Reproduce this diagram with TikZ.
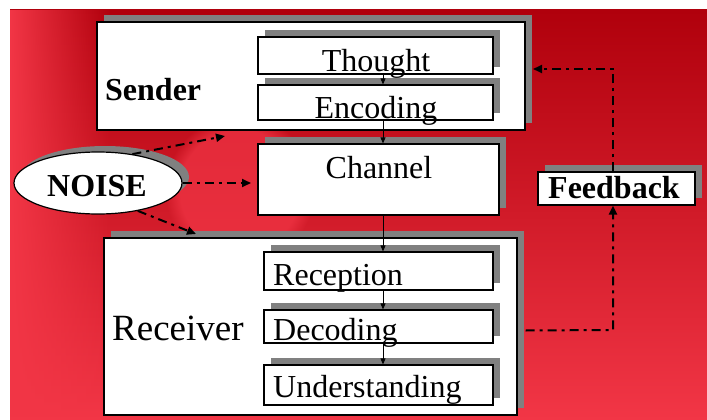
\documentclass[tikz,border=0pt]{standalone}
\usepackage{fontspec}
\setmainfont{Liberation Serif}
\usetikzlibrary{shapes.geometric,shadows,arrows.meta,fadings}

\definecolor{bgtop}{HTML}{B0000C}
\definecolor{bgbot}{HTML}{F23646}
\definecolor{boxshadow}{HTML}{808080}

\newcommand\bigtxt{\fontsize{32}{36}\selectfont}

\tikzset{
  box/.style={draw=black,fill=white,line width=1.2pt,inner sep=0pt,
    general shadow={fill=boxshadow,shadow xshift=7pt,shadow yshift=7pt}},
  txt/.style={anchor=base,inner sep=0pt,font=\bigtxt},
  flow/.style={line width=0.8pt,-{Triangle[length=6pt,width=5pt]}},
  dashdot/.style={line width=2pt,dash pattern=on 9pt off 5pt on 3pt off 5pt,
    -{Triangle[length=9pt,width=8pt]}}
}

\begin{document}
\begin{tikzpicture}[x=1pt,y=-1pt]
\useasboundingbox (0,0) rectangle (707,420);

% background
\shade[top color=bgtop,bottom color=bgbot] (10,10) rectangle (707,420);
\fill[bgbot,path fading=east] (10,10) rectangle (110,420);
\fill[bgbot,opacity=.7,path fading=circle with fuzzy edge 20 percent] (240,190) circle (75);

% sender
\node[box,minimum width=428,minimum height=108] (sender) at (311,76) {};
\node[txt,anchor=base west,font=\bigtxt\bfseries] (sendert) at (105,100) {Sender};
\node[box,minimum width=235,minimum height=37] (thought) at (375.5,55.5) {};
\node[txt] (thoughtt) at (376,72) {Thought};
\node[box,minimum width=235,minimum height=35] (encoding) at (375.5,102.5) {};
\node[txt] (encodingt) at (376,118) {Encoding};

% channel and feedback
\node[box,minimum width=241,minimum height=71] (channel) at (378.5,179.5) {};
\node[txt] (channelt) at (379,178) {Channel};
\node[box,minimum width=157,minimum height=33] (feedback) at (616.5,188.5) {};
\node[txt,font=\bigtxt\bfseries] (feedbackt) at (614,198) {Feedback};

% noise
\node[ellipse,draw=black,fill=white,line width=1.2pt,minimum width=168,minimum height=62,
  general shadow={fill=boxshadow,shadow xshift=7pt,shadow yshift=6pt}] (noise) at (98,183) {};
\node[txt,font=\bigtxt\bfseries] (noiset) at (97,196) {NOISE};

% receiver
\node[box,minimum width=413,minimum height=177] (receiver) at (310.5,326.5) {};
\node[txt,anchor=base west,font=\fontsize{37}{40}\selectfont] (receivert) at (112,340) {Receiver};
\node[box,minimum width=229,minimum height=38] (reception) at (378.5,271) {};
\node[txt,anchor=base west] (receptiont) at (273,285) {Reception};
\node[box,minimum width=229,minimum height=33] (decoding) at (378.5,326.5) {};
\node[txt,anchor=base west] (decodingt) at (273,340) {Decoding};
\node[box,minimum width=229,minimum height=40] (understanding) at (378.5,385) {};
\node[txt,anchor=base west] (understandingt) at (273,397) {Understanding};

% main flow
\coordinate (axis) at (383,0);
\draw[flow] (thought.south -| axis) -- (encoding.north -| axis);
\draw[flow] (encoding.south -| axis) -- (channel.north -| axis);
\draw[flow] (channel.south -| axis) -- (reception.north -| axis);
\draw[flow] (reception.south -| axis) -- (decoding.north -| axis);
\draw[flow] (decoding.south -| axis) -- (understanding.north -| axis);

% noise arrows
\coordinate (n1) at (225,136);
\coordinate (n2) at (251,183);
\coordinate (n3) at (196,234);
\draw[dashdot] (noise.40) -- (n1);
\draw[dashdot] (noise.east) -- (n2);
\draw[dashdot] (noise.-35) -- (n3);

% feedback loop
\coordinate (fb1) at (613,330);
\coordinate (fb2) at (613,69);
\coordinate (fbend) at (533,69);
\draw[dashdot] ([xshift=8pt,yshift=-4pt]receiver.east) -- (fb1) -- (fb1 |- feedback.south);
\draw[dashdot] (fb2 |- feedback.north) -- (fb2) -- (fbend);

\end{tikzpicture}
\end{document}
